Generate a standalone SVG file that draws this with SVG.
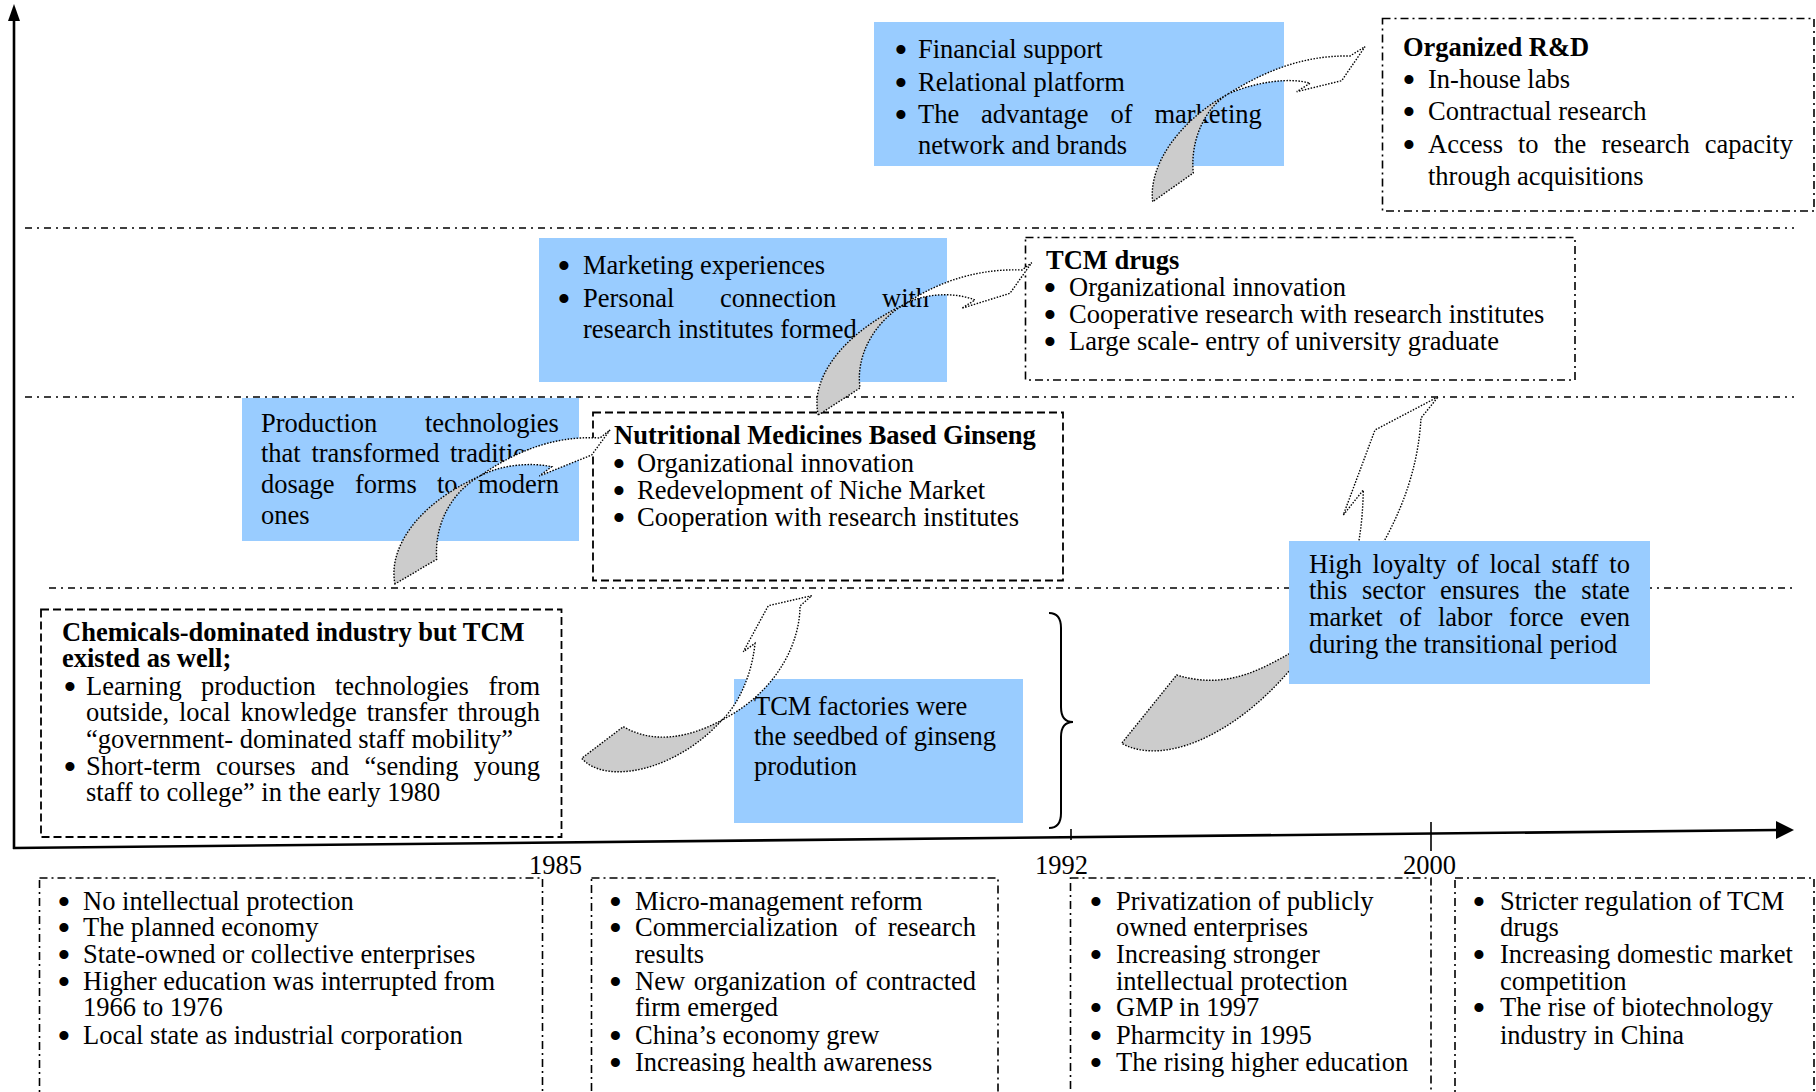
<svg xmlns="http://www.w3.org/2000/svg" width="1816" height="1092" viewBox="0 0 1816 1092">
<style>
.t{font-family:"Liberation Serif","Times New Roman",serif;font-size:26.5px;fill:#000}
.b{font-weight:bold}
.bl{text-anchor:middle;font-size:38px}
.blue{fill:#99ccff}
.dd{fill:none;stroke:#000;stroke-width:1.6;stroke-dasharray:8 4 2 4}
.dash{fill:none;stroke:#000;stroke-width:1.8;stroke-dasharray:8 4}
.sep{fill:none;stroke:#000;stroke-width:1.5;stroke-dasharray:7 5 2 5}
.ar{stroke:#000;stroke-width:1.4;stroke-dasharray:1.5 1.5}
.g{fill:#cccccc}
.w{fill:#ffffff}
.axis{stroke:#000;stroke-width:2.6;fill:none}
</style>
<rect width="1816" height="1092" fill="#fff"/>

<!-- axes, ticks and period separators -->
<g id="axes">
  <line class="axis" x1="14" y1="18" x2="14" y2="849"/>
  <polygon points="14,4 8,21 20,21" fill="#000"/>
  <line class="axis" x1="13" y1="848" x2="1778" y2="830"/>
  <polygon points="1794,830 1776,821 1776,839" fill="#000"/>
  <line x1="1071" y1="829" x2="1071" y2="840" stroke="#000" stroke-width="1.6"/>
  <line x1="1431" y1="822" x2="1431" y2="851" stroke="#000" stroke-width="1.6"/>
  <line class="sep" x1="25" y1="228" x2="1794" y2="228"/>
  <line class="sep" x1="25" y1="397" x2="1794" y2="397"/>
  <line class="sep" x1="49" y1="588" x2="1794" y2="588"/>
</g>

<!-- year labels -->
<g id="years">
  <text class="t" x="529" y="874">1985</text>
  <text class="t" x="1035" y="874">1992</text>
  <text class="t" x="1403" y="874">2000</text>
</g>

<!-- context boxes below the time axis -->
<g id="ctx-before-1985">
  <rect class="dd" x="39.5" y="878" width="503" height="240"/>
  <text class="t bl" x="64" y="915">•</text><text class="t" x="83" y="910">No intellectual protection</text>
  <text class="t bl" x="64" y="941">•</text><text class="t" x="83" y="936">The planned economy</text>
  <text class="t bl" x="64" y="967.5">•</text><text class="t" x="83" y="962.5">State-owned or collective enterprises</text>
  <text class="t bl" x="64" y="994.5">•</text><text class="t" x="83" y="989.5">Higher education was interrupted from</text>
  <text class="t" x="83" y="1015.5">1966 to 1976</text>
  <text class="t bl" x="64" y="1048.5">•</text><text class="t" x="83" y="1043.5">Local state as industrial corporation</text>
</g>
<g id="ctx-1985-1992">
  <rect class="dd" x="591.5" y="878" width="406.5" height="240"/>
  <text class="t bl" x="615.5" y="915">•</text><text class="t" x="635" y="910">Micro-management reform</text>
  <text class="t bl" x="615.5" y="941">•</text><text class="t" y="936"><tspan x="635">Commercialization</tspan><tspan x="854.5">of</tspan><tspan x="887.7">research</tspan></text>
  <text class="t" x="635" y="962.5">results</text>
  <text class="t bl" x="615.5" y="994.5">•</text><text class="t" y="989.5"><tspan x="635">New</tspan><tspan x="693.7">organization</tspan><tspan x="834.9">of</tspan><tspan x="865.7">contracted</tspan></text>
  <text class="t" x="635" y="1015.5">firm emerged</text>
  <text class="t bl" x="615.5" y="1048.5">•</text><text class="t" x="635" y="1043.5">China’s economy grew</text>
  <text class="t bl" x="615.5" y="1075.5">•</text><text class="t" x="635" y="1070.5">Increasing health awareness</text>
</g>
<g id="ctx-1992-2000">
  <rect class="dd" x="1070.5" y="878" width="360.5" height="240"/>
  <text class="t bl" x="1096" y="915">•</text><text class="t" x="1116" y="910">Privatization of publicly</text>
  <text class="t" x="1116" y="936">owned enterprises</text>
  <text class="t bl" x="1096" y="967.5">•</text><text class="t" x="1116" y="962.5">Increasing stronger</text>
  <text class="t" x="1116" y="989.5">intellectual protection</text>
  <text class="t bl" x="1096" y="1020.5">•</text><text class="t" x="1116" y="1015.5">GMP in 1997</text>
  <text class="t bl" x="1096" y="1048.5">•</text><text class="t" x="1116" y="1043.5">Pharmcity in 1995</text>
  <text class="t bl" x="1096" y="1075.5">•</text><text class="t" x="1116" y="1070.5">The rising higher education</text>
</g>
<g id="ctx-after-2000">
  <rect class="dd" x="1455" y="878" width="359" height="240"/>
  <text class="t bl" x="1479" y="915">•</text><text class="t" x="1500" y="910">Stricter regulation of TCM</text>
  <text class="t" x="1500" y="936">drugs</text>
  <text class="t bl" x="1479" y="967.5">•</text><text class="t" x="1500" y="962.5">Increasing domestic market</text>
  <text class="t" x="1500" y="989.5">competition</text>
  <text class="t bl" x="1479" y="1020.5">•</text><text class="t" x="1500" y="1015.5">The rise of biotechnology</text>
  <text class="t" x="1500" y="1043.5">industry in China</text>
</g>

<!-- brace grouping the 1985-1992 period -->
<g id="brace">
  <path d="M1049,613 Q1061,613 1061,628 L1061,707 Q1061,722 1073,722 Q1061,722 1061,737 L1061,813 Q1061,828 1049,828" fill="none" stroke="#000" stroke-width="2"/>
</g>

<!-- stage 4 -->
<g id="support-rd">
  <rect class="blue" x="874" y="22" width="410" height="144"/>
  <text class="t bl" x="901" y="63">•</text><text class="t" x="918" y="58">Financial support</text>
  <text class="t bl" x="901" y="95.5">•</text><text class="t" x="918" y="90.5">Relational platform</text>
  <text class="t bl" x="901" y="128">•</text><text class="t" y="123"><tspan x="918">The</tspan><tspan x="981">advantage</tspan><tspan x="1110.4">of</tspan><tspan x="1154.4">marketing</tspan></text>
  <text class="t" x="918" y="153.5">network and brands</text>
</g>
<g id="organized-rd">
  <rect class="dd" x="1382.5" y="18.5" width="431.5" height="192.5"/>
  <text class="t b" x="1403" y="55.5">Organized R&amp;D</text>
  <text class="t bl" x="1409" y="93">•</text><text class="t" x="1428" y="88">In-house labs</text>
  <text class="t bl" x="1409" y="125">•</text><text class="t" x="1428" y="120">Contractual research</text>
  <text class="t bl" x="1409" y="157.5">•</text><text class="t" y="152.5"><tspan x="1428">Access</tspan><tspan x="1518">to</tspan><tspan x="1554">the</tspan><tspan x="1601.5">research</tspan><tspan x="1704.7">capacity</tspan></text>
  <text class="t" x="1428" y="184.5">through acquisitions</text>
</g>

<!-- stage 3 -->
<g id="support-tcm">
  <rect class="blue" x="539" y="238" width="408" height="144"/>
  <text class="t bl" x="564" y="278.5">•</text><text class="t" x="583" y="273.5">Marketing experiences</text>
  <text class="t bl" x="564" y="311.5">•</text><text class="t" y="306.5"><tspan x="583">Personal</tspan><tspan x="720">connection</tspan><tspan x="882">with</tspan></text>
  <text class="t" x="583" y="338">research institutes formed</text>
</g>
<g id="tcm-drugs">
  <rect class="dd" x="1025.5" y="237.5" width="549.5" height="142.5"/>
  <text class="t b" x="1046" y="269">TCM drugs</text>
  <text class="t bl" x="1050" y="301">•</text><text class="t" x="1069" y="296">Organizational innovation</text>
  <text class="t bl" x="1050" y="328">•</text><text class="t" x="1069" y="323">Cooperative research with research institutes</text>
  <text class="t bl" x="1050" y="354.5">•</text><text class="t" x="1069" y="349.5">Large scale- entry of university graduate</text>
</g>

<!-- stage 2 -->
<g id="support-ginseng">
  <rect class="blue" x="242" y="398" width="337" height="143"/>
  <text class="t" y="432"><tspan x="261">Production</tspan><tspan x="425">technologies</tspan></text>
  <text class="t" y="462"><tspan x="261">that</tspan><tspan x="311.4">transformed</tspan><tspan x="450">traditional</tspan></text>
  <text class="t" y="492.5"><tspan x="261">dosage</tspan><tspan x="354.9">forms</tspan><tspan x="437">to</tspan><tspan x="478">modern</tspan></text>
  <text class="t" x="261" y="523.5">ones</text>
</g>
<g id="ginseng">
  <rect class="dash" x="593" y="412.5" width="470" height="168"/>
  <text class="t b" x="614" y="444">Nutritional Medicines Based Ginseng</text>
  <text class="t bl" x="619" y="477">•</text><text class="t" x="637" y="472">Organizational innovation</text>
  <text class="t bl" x="619" y="504">•</text><text class="t" x="637" y="499">Redevelopment of Niche Market</text>
  <text class="t bl" x="619" y="530.5">•</text><text class="t" x="637" y="525.5">Cooperation with research institutes</text>
</g>

<!-- stage 1 -->
<g id="chemicals">
  <rect class="dash" x="41" y="609.5" width="520.5" height="227.5"/>
  <text class="t b" x="62" y="641">Chemicals-dominated industry but TCM</text>
  <text class="t b" x="62" y="667">existed as well;</text>
  <text class="t bl" x="70" y="699.5">•</text><text class="t" y="694.5"><tspan x="86">Learning</tspan><tspan x="201">production</tspan><tspan x="335">technologies</tspan><tspan x="488.5">from</tspan></text>
  <text class="t" y="721"><tspan x="86">outside,</tspan><tspan x="179">local</tspan><tspan x="240.5">knowledge</tspan><tspan x="366.7">transfer</tspan><tspan x="457.5">through</tspan></text>
  <text class="t" x="86" y="747.5">“government- dominated staff mobility”</text>
  <text class="t bl" x="70" y="780">•</text><text class="t" y="775"><tspan x="86">Short-term</tspan><tspan x="216">courses</tspan><tspan x="310.8">and</tspan><tspan x="364.4">“sending</tspan><tspan x="473.8">young</tspan></text>
  <text class="t" x="86" y="801">staff to college” in the early 1980</text>
</g>
<g id="tcm-factories">
  <rect class="blue" x="734" y="679" width="289" height="144"/>
  <text class="t" x="754" y="714.5">TCM factories were</text>
  <text class="t" x="754" y="745">the seedbed of ginseng</text>
  <text class="t" x="754" y="774.5">prodution</text>
</g>

<!-- curved block arrows: grey underside lobe and white upper lobe -->
<g id="connectors">
  <g id="arrow-rd">
    <path class="ar g" d="M1152.7,201.7 C1148,165 1180,120 1228,94 C1205,108 1190,140 1193.3,173 L1152.7,201.7 Z"/>
    <path class="ar w" d="M1228,94 C1260,74 1300,55 1350,56 L1365,46.7 L1341.7,80.7 L1296.7,91.7 L1310,83.3 C1290,77 1255,82 1228,94 Z"/>
  </g>
  <g id="arrow-tcm">
    <path class="ar g" d="M818.3,415 C810,380 840,335 905,304 C880,318 855,350 860,388 L818.3,415 Z"/>
    <path class="ar w" d="M905,304 C930,287 970,268 1022,270 L1031.7,262.7 L1010,293.3 L961.7,308.3 L975,300 C955,292 925,293 905,304 Z"/>
  </g>
  <g id="arrow-ginseng">
    <path class="ar g" d="M395,584 C388,550 415,505 480,476 C455,490 434,520 436.7,559.3 L395,584 Z"/>
    <path class="ar w" d="M480,476 C510,455 550,435 600,438 L610,430 L591.7,455 L539.3,476 L551.7,466.7 C530,462 500,465 480,476 Z"/>
  </g>
  <g id="arrow-seedbed">
    <path class="ar w" d="M722,720 C738,705 752,675 755,643.3 L743.3,651.7 L768.3,605.7 L811.7,595.7 L800,606 C800,640 780,690 722,720 Z"/>
    <path class="ar g" d="M722,720 C700,732 660,748 623.3,726.7 L581.7,758.3 C605,785 675,772 722,720 Z"/>
  </g>
  <g id="arrow-loyalty">
    <path class="ar w" d="M1320,630 C1345,600 1362,560 1363.3,490 L1343.3,515 L1375,430 L1438.3,396.7 L1421,418 C1418,470 1400,540 1320,630 Z"/>
    <path class="ar g" d="M1320,630 C1305,642 1300,648 1290,653.3 C1260,670 1225,690 1176.7,675 L1121.7,743.3 C1160,765 1230,740 1290,670 C1300,658 1312,642 1320,630 Z"/>
  </g>
</g>

<g id="loyalty">
  <rect class="blue" x="1289" y="541" width="361" height="143"/>
  <text class="t" y="573"><tspan x="1309">High</tspan><tspan x="1372.6">loyalty</tspan><tspan x="1456.8">of</tspan><tspan x="1489.5">local</tspan><tspan x="1551.6">staff</tspan><tspan x="1609.3">to</tspan></text>
  <text class="t" y="599"><tspan x="1309">this</tspan><tspan x="1362">sector</tspan><tspan x="1440">ensures</tspan><tspan x="1534.2">the</tspan><tspan x="1581.3">state</tspan></text>
  <text class="t" y="626"><tspan x="1309">market</tspan><tspan x="1399.2">of</tspan><tspan x="1437.9">labor</tspan><tspan x="1509">force</tspan><tspan x="1579.9">even</tspan></text>
  <text class="t" x="1309" y="653">during the transitional period</text>
</g>
</svg>
